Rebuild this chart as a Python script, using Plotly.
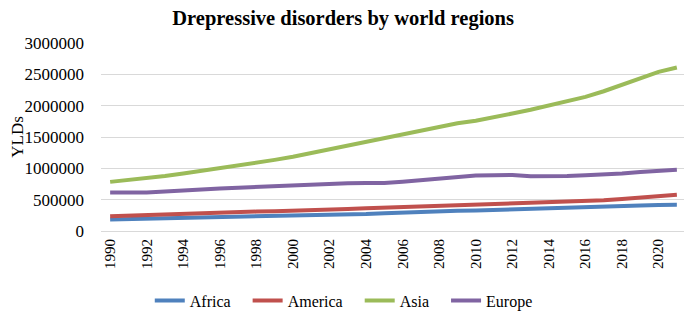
import plotly.graph_objects as go

years = list(range(1990, 2022))
tick_years = list(range(1990, 2021, 2))

africa = [184, 190, 197, 204, 210, 216, 220, 223, 226, 232, 237, 245, 253, 262, 272, 285,
          298, 308, 316, 322, 326, 334, 342, 348, 353, 362, 374, 379, 384, 405, 416, 417]
america = [237, 248, 258, 268, 279, 288, 297, 304, 310, 316, 321, 332, 342, 352, 362, 372,
           379, 387, 395, 405, 416, 424, 432, 440, 447, 457, 468, 489, 510, 532, 566, 579]
asia = [784, 810, 837, 877, 916, 958, 1000, 1045, 1090, 1135, 1184, 1245, 1308, 1365, 1420, 1485,
        1550, 1605, 1665, 1720, 1760, 1810, 1875, 1935, 2000, 2070, 2140, 2230, 2330, 2440, 2540, 2610]
europe = [616, 614, 616, 630, 642, 652, 679, 692, 705, 718, 731, 742, 755, 760, 765, 765,
          784, 810, 842, 872, 884, 890, 895, 874, 872, 878, 890, 900, 916, 942, 963, 979]

series = [
    ("Africa", africa, "#4F81BD"),
    ("America", america, "#C0504D"),
    ("Asia", asia, "#9BBB59"),
    ("Europe", europe, "#8064A2"),
]

FONT = "Liberation Serif, Times New Roman, serif"
PAD = "\u00a0\u00a0\u00a0"

fig = go.Figure()
for i, (name, vals, color) in enumerate(series):
    label = name + (PAD if i < len(series) - 1 else "")
    fig.add_trace(go.Scatter(
        x=years, y=[v * 1000 for v in vals], name=label, mode="lines",
        line=dict(color=color, width=4),
    ))

# page body has an 8px margin, so the figure is 8px smaller and shifted
fig.update_layout(
    width=684, height=306,
    margin=dict(l=93, r=6, t=35, b=83, autoexpand=False),
    paper_bgcolor="white", plot_bgcolor="white",
    font=dict(family=FONT, size=16, color="#000000"),
    title=dict(text="<b>Drepressive disorders by world regions</b>",
               x=0.49, xref="container", xanchor="center",
               y=0.99, yref="container", yanchor="top",
               font=dict(family=FONT, size=20.5, color="#000000")),
    showlegend=True,
    legend=dict(orientation="h", x=0.415, xanchor="center", y=-0.37, yanchor="middle",
                font=dict(family=FONT, size=16), itemwidth=30, tracegroupgap=0),
)

fig.update_xaxes(
    range=[1989.5, 2021.5], tickmode="array", tickvals=tick_years,
    ticktext=[str(y) for y in tick_years], tickangle=-90, automargin=False,
    showgrid=False, zeroline=False, showline=True, linecolor="#d9d9d9", linewidth=1,
    ticks="", ticklabelstandoff=1, tickfont=dict(family=FONT, size=15),
)
fig.update_yaxes(
    range=[0, 3000000], dtick=500000, tick0=0, tickformat="d", automargin=False,
    showgrid=True, gridcolor="#d9d9d9", gridwidth=1, zeroline=False,
    ticks="", ticklabelstandoff=16, tickfont=dict(family=FONT, size=17),
    title=dict(text="YLDs", standoff=12, font=dict(family=FONT, size=17)),
)

fig.write_html("out.html")
